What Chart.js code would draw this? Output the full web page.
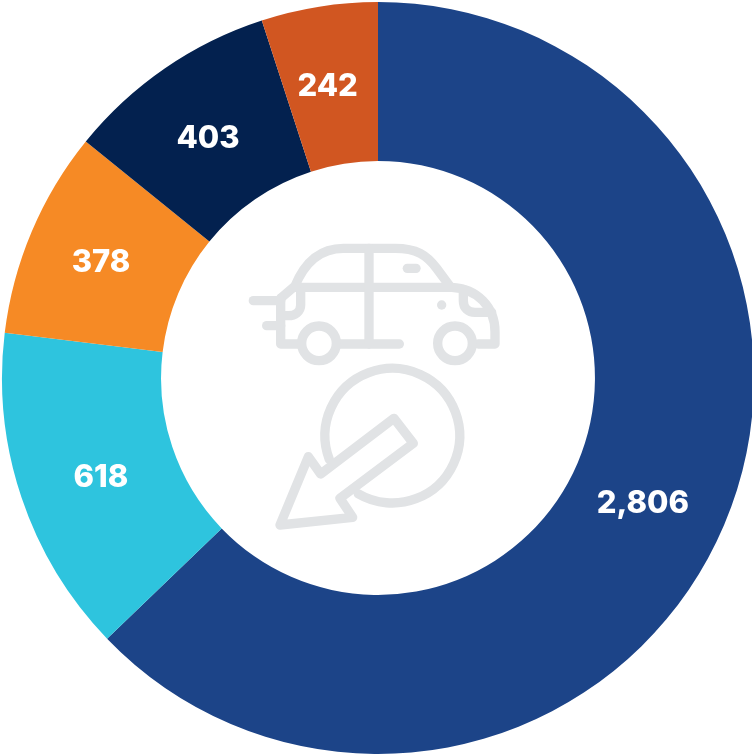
<!DOCTYPE html>
<html><head><meta charset="utf-8">
<style>html,body{margin:0;padding:0;background:#fff;overflow:hidden;width:752px;height:755px}
#w{position:absolute;left:0;top:0;width:756px;height:756px}</style>
<script src="https://cdn.jsdelivr.net/npm/chart.js@4"></script>
</head><body><div id="w"><canvas id="c" width="756" height="756"></canvas></div>
<script>
const categories = ["Segment 1","Segment 2","Segment 3","Segment 4","Segment 5"];
// Numbers as printed on the slices.
const printedValues = ["2,806","618","378","403","242"];
// Slice spans in degrees. The reference's slices are
// not exactly proportional to its printed numbers, so the two are kept apart.
const sliceDegrees = [226.1,50.8,32.1,33.0,18.0];
const colors = ["#1c4488","#2ec4de","#f68a25","#03214f","#d15621"];
const labelNudge = [[-8,10],[4,6],[-4,0],[-2,5],[-4,2]];

const valueLabels = {id:"valueLabels",afterDatasetsDraw(ch){
  const g=ch.ctx, arcs=ch.getDatasetMeta(0).data;
  g.save();g.fillStyle="#fff";g.font="800 31px Inter";g.textAlign="center";g.textBaseline="middle";
  arcs.forEach((a,i)=>{const p=a.getCenterPoint();
    g.fillText(printedValues[i],p.x+labelNudge[i][0],p.y+labelNudge[i][1]);});
  g.restore();
}};
const icon = {id:"icon",afterDatasetsDraw(ch){
  const g=ch.ctx;
  g.save();g.translate(230,230);g.scale(1/3,1/3);
  g.strokeStyle="#e1e3e5";g.fillStyle="#e1e3e5";g.lineWidth=28;g.lineCap="round";g.lineJoin="round";
  const s=f=>{g.beginPath();f();g.stroke();};
  s(()=>{g.moveTo(152,205);g.lineTo(195,168);g.bezierCurveTo(225,95,270,55,340,55);g.lineTo(495,55);
         g.bezierCurveTo(560,55,590,75,620,115);g.lineTo(662,172);});
  s(()=>{g.moveTo(195,172);g.lineTo(665,172);g.bezierCurveTo(740,175,795,230,795,305);g.lineTo(795,342);g.lineTo(745,342);});
  s(()=>{g.moveTo(152,205);g.lineTo(152,342);g.lineTo(205,342);});
  s(()=>{g.moveTo(330,342);g.lineTo(508,342);});
  s(()=>{g.moveTo(417,55);g.lineTo(417,342);});
  s(()=>{g.arc(267,340,52,0,Math.PI*2);});
  s(()=>{g.arc(675,340,52,0,Math.PI*2);});
  s(()=>{g.moveTo(700,178);g.lineTo(700,212);g.bezierCurveTo(700,235,715,247,735,247);g.lineTo(785,247);});
  s(()=>{g.moveTo(212,185);g.lineTo(212,225);g.bezierCurveTo(212,245,195,257,175,257);g.lineTo(152,257);});
  s(()=>{g.moveTo(70,212);g.lineTo(152,212);});
  s(()=>{g.moveTo(110,287);g.lineTo(152,287);});
  s(()=>{g.moveTo(532,115);g.lineTo(558,115);});
  g.beginPath();g.arc(635,225,14,0,Math.PI*2);g.fill();
  const d=Math.PI/180;
  s(()=>{g.arc(487,617,202,159.5*d,120.5*d);});
  s(()=>{g.moveTo(492,565);g.lineTo(550,640);g.lineTo(330,805);g.lineTo(368,862);g.lineTo(150,885);g.lineTo(235,680);g.lineTo(272,732);g.closePath();});
  g.restore();
}};
new Chart(document.getElementById("c"),{
  type:"doughnut",
  data:{labels:categories,datasets:[{data:sliceDegrees,backgroundColor:colors,borderWidth:0,hoverOffset:0}]},
  options:{responsive:false,animation:false,cutout:"57.7%",rotation:0,
    layout:{padding:2},
    plugins:{legend:{display:false},tooltip:{enabled:false},title:{display:false}}},
  plugins:[valueLabels,icon]
});
</script></body></html>
